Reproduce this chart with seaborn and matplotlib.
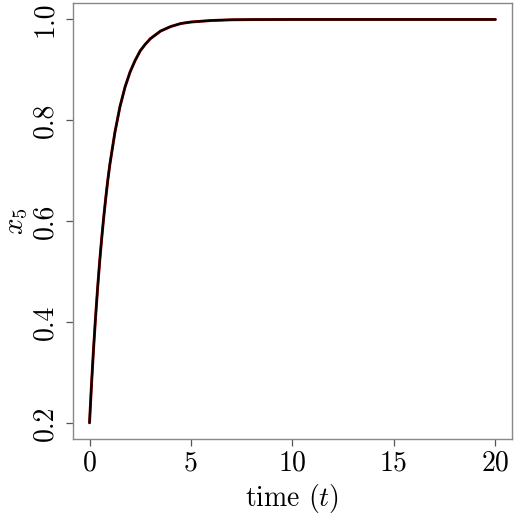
import matplotlib
matplotlib.use("Agg")
import matplotlib.pyplot as plt
import seaborn as sns
import pandas as pd

# values
time = [0.0, 0.1, 0.2, 0.3, 0.4, 0.5, 0.6, 0.7, 0.8, 0.9, 1.0, 1.25, 1.5, 1.75,
        2.0, 2.25, 2.5, 2.75, 3.0, 3.5, 4.0, 4.5, 5.0, 6.0, 7.0, 8.0, 10.0,
        12.0, 15.0, 20.0]
x5 = [0.200, 0.278, 0.348, 0.411, 0.468, 0.520, 0.566, 0.608, 0.646, 0.681,
      0.712, 0.776, 0.827, 0.866, 0.896, 0.919, 0.938, 0.951, 0.962, 0.977,
      0.986, 0.992, 0.995, 0.998, 0.9994, 0.9998, 1.0, 1.0, 1.0, 1.0]

xticks = [0, 5, 10, 15, 20]
yticks = [0.2, 0.4, 0.6, 0.8, 1.0]

df = pd.DataFrame({"time": time, "x5": x5})

sns.set_style("ticks")
plt.rcParams["font.family"] = ["serif"]
plt.rcParams["font.serif"] = ["cmr10", "DejaVu Serif"]
plt.rcParams["mathtext.fontset"] = "cm"
plt.rcParams["axes.unicode_minus"] = False
plt.rcParams["text.color"] = "black"
plt.rcParams["axes.labelcolor"] = "black"

fig = plt.figure(figsize=(5.15, 5.15), dpi=100)
ax = fig.add_axes([0.1423, 0.1476, 0.8512, 0.8459])

# red reference trajectory underneath, black on top
sns.lineplot(data=df, x="time", y="x5", ax=ax, color="#b00000", linewidth=2.1)
sns.lineplot(data=df, x="time", y="x5", ax=ax, color="black", linewidth=1.6)

ax.set_xlim(-0.8, 20.8)
ax.set_ylim(0.168, 1.032)
ax.set_xticks(xticks)
ax.set_xticklabels([str(v) for v in xticks])
ax.set_yticks(yticks)
ax.set_yticklabels([f"{v:.1f}" for v in yticks])

for side in ["top", "right", "bottom", "left"]:
    ax.spines[side].set_visible(True)
    ax.spines[side].set_color("#888888")
    ax.spines[side].set_linewidth(1.0)

ax.tick_params(axis="both", direction="out", length=5, width=0.9,
               color="#555555", labelcolor="black", labelsize=20)
ax.tick_params(axis="x", pad=3)
ax.tick_params(axis="y", pad=6)
for lab in ax.get_yticklabels():
    lab.set_rotation(90)
    lab.set_va("center")
    lab.set_ha("right")

ax.set_xlabel("time ($t$)", fontsize=20, labelpad=4)
ax.set_ylabel("$x_5$", fontsize=21)
ax.yaxis.set_label_coords(-0.098, 0.5)

fig.savefig("out.png", dpi=100)
